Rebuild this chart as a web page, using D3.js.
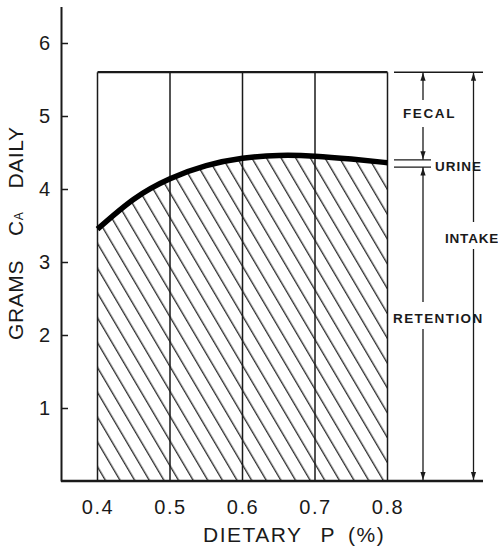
<!DOCTYPE html>
<html>
<head>
<meta charset="utf-8">
<script src="https://cdn.jsdelivr.net/npm/d3@7"></script>
<style>
  html, body { margin: 0; padding: 0; background: #fff; }
  svg { display: block; }
  text { font-family: "Liberation Sans", Arial, sans-serif; fill: #1a1a1a; }
</style>
</head>
<body>
<svg id="chart" width="498" height="548"></svg>
<script>
// Dietary phosphorus levels (%) and calcium retention (g/day)
const dietaryP   = [0.40, 0.45, 0.50, 0.55, 0.60, 0.65, 0.70, 0.75, 0.80];
const retention  = [3.45, 3.86, 4.14, 4.32, 4.42, 4.46, 4.45, 4.41, 4.36];
const gridP      = [0.4, 0.5, 0.6, 0.7, 0.8];
const xTicks     = [0.4, 0.5, 0.6, 0.7, 0.8];
const yTicks     = [1, 2, 3, 4, 5, 6];
const intake     = 5.6;           // daily calcium intake
const urineBand  = [4.40, 4.30];  // urine losses shown as a narrow band
const xExtent    = [0.4, 0.8];
const yExtent    = [0, 6.5];

const svg = d3.select("#chart");
const ink = "#1a1a1a";

const x = d3.scaleLinear().domain(xExtent).range([97.5, 387.5]);
const y = d3.scaleLinear().domain(yExtent).range([481, 6.5]);

const axisX = 61;          // position of the vertical axis
const rightEnd = 483;      // right end of the baseline and intake line

// hatch pattern for retained calcium
const defs = svg.append("defs");
const pat = defs.append("pattern")
  .attr("id", "hatch")
  .attr("patternUnits", "userSpaceOnUse")
  .attr("width", 12.6).attr("height", 12.6)
  .attr("patternTransform", "translate(105,481) rotate(-30.5)");
pat.append("line")
  .attr("x1", 0.7).attr("y1", -2).attr("x2", 0.7).attr("y2", 15)
  .attr("stroke", "#222").attr("stroke-width", 1.3);

const pts = dietaryP.map((p, i) => ({p, v: retention[i]}));
const curve = d3.curveNatural;

svg.append("path")
  .datum(pts)
  .attr("fill", "url(#hatch)")
  .attr("d", d3.area().x(d => x(d.p)).y0(y(0)).y1(d => y(d.v)).curve(curve));

// vertical frame lines
svg.selectAll(".grid").data(gridP).enter().append("line")
  .attr("x1", d => x(d)).attr("x2", d => x(d))
  .attr("y1", y(0)).attr("y2", y(intake))
  .attr("stroke", ink).attr("stroke-width", 1.5);

// intake line
svg.append("line")
  .attr("x1", x(xExtent[0])).attr("x2", x(xExtent[1]))
  .attr("y1", y(intake)).attr("y2", y(intake))
  .attr("stroke", ink).attr("stroke-width", 2.2);

// retention curve
svg.append("path")
  .datum(pts)
  .attr("fill", "none").attr("stroke", "#000").attr("stroke-width", 5.5)
  .attr("d", d3.line().x(d => x(d.p)).y(d => y(d.v)).curve(curve));

// baseline
svg.append("line")
  .attr("x1", axisX).attr("x2", rightEnd)
  .attr("y1", y(0)).attr("y2", y(0))
  .attr("stroke", ink).attr("stroke-width", 2.6);

// y axis
const gy = svg.append("g").attr("transform", `translate(${axisX},0)`)
  .call(d3.axisLeft(y).tickValues(yTicks).tickSizeInner(-7).tickSizeOuter(0).tickPadding(11)
        .tickFormat(d3.format("d")));
gy.select(".domain").attr("stroke", ink).attr("stroke-width", 2);
gy.selectAll(".tick line").attr("stroke", ink).attr("stroke-width", 1.5);
gy.selectAll(".tick text").attr("font-size", 20).attr("fill", ink)
  .attr("font-family", "Liberation Sans, Arial, sans-serif");

// x tick labels
const gx = svg.append("g").attr("transform", `translate(0,${y(0)})`)
  .call(d3.axisBottom(x).tickValues(xTicks).tickSize(0).tickPadding(19)
        .tickFormat(d3.format(".1f")));
gx.select(".domain").remove();
gx.selectAll(".tick text").attr("font-size", 20).attr("fill", ink)
  .attr("letter-spacing", 1.5)
  .attr("font-family", "Liberation Sans, Arial, sans-serif");

// axis titles
const xt = svg.append("text").attr("x", 203).attr("y", 542)
  .attr("font-size", 21).attr("letter-spacing", 1.5);
xt.append("tspan").text("DIETARY");
xt.append("tspan").attr("dx", 18).text("P");
xt.append("tspan").attr("dx", 12).text("(%)");

const yt = svg.append("text")
  .attr("transform", "translate(23,340) rotate(-90)")
  .attr("font-size", 21).attr("letter-spacing", 0.6);
yt.append("tspan").text("GRAMS");
yt.append("tspan").attr("dx", 24).text("C");
yt.append("tspan").attr("font-size", 12).text("A");
yt.append("tspan").attr("dx", 23).text("DAILY");

// bracket annotations on the right
const colA = 423, colB = 473.5;
svg.append("line").attr("x1", 394).attr("x2", rightEnd)
  .attr("y1", y(intake)).attr("y2", y(intake))
  .attr("stroke", ink).attr("stroke-width", 1.6);
urineBand.forEach(v => {
  svg.append("line").attr("x1", 394).attr("x2", 431)
    .attr("y1", y(v)).attr("y2", y(v))
    .attr("stroke", ink).attr("stroke-width", 1.3);
});

function arrowHead(cx, cy, dir) {
  // dir = -1 points up, 1 points down
  svg.append("path")
    .attr("d", `M${cx},${cy} L${cx - 2.6},${cy - dir * 8} L${cx + 2.6},${cy - dir * 8} Z`)
    .attr("fill", ink);
}
function seg(cx, a, b) {
  svg.append("line").attr("x1", cx).attr("x2", cx).attr("y1", a).attr("y2", b)
    .attr("stroke", ink).attr("stroke-width", 1.3);
}

// fecal
seg(colA, y(intake), 100); arrowHead(colA, y(intake) + 0.5, -1);
seg(colA, 127, y(urineBand[0])); arrowHead(colA, y(urineBand[0]) - 0.5, 1);
// retention
seg(colA, y(urineBand[1]), 302); arrowHead(colA, y(urineBand[1]) + 0.5, -1);
seg(colA, 329, y(0)); arrowHead(colA, y(0) - 1, 1);
// intake
seg(colB, y(intake), 222); arrowHead(colB, y(intake) + 0.5, -1);
seg(colB, 249, y(0)); arrowHead(colB, y(0) - 1, 1);

const lab = (t, xx, yy, ls) => svg.append("text").attr("x", xx).attr("y", yy)
  .attr("font-size", 13.5).attr("font-weight", "bold").attr("letter-spacing", ls).text(t);
lab("FECAL", 403, 118, 1.6);
lab("URINE", 435, 171, 1.0);
lab("INTAKE", 445, 242.5, 0.8);
lab("RETENTION", 393, 323, 1.4);
</script>
</body>
</html>
